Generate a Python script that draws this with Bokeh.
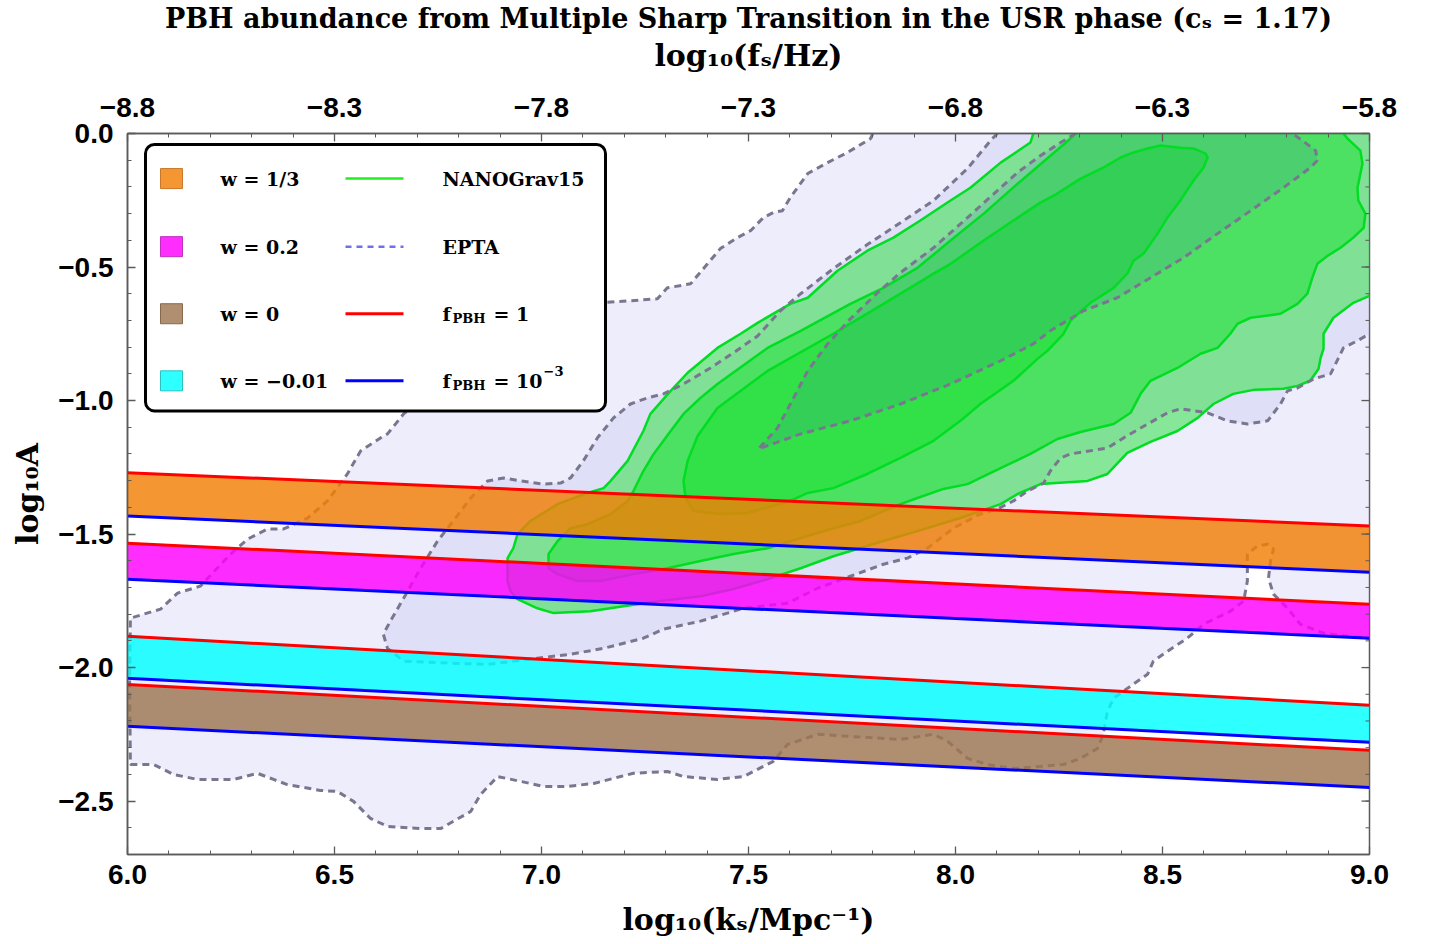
import numpy as np
from bokeh.plotting import figure
from bokeh.models import Range1d, LinearAxis, FixedTicker, BoxAnnotation
from bokeh.core.properties import value
from bokeh.embed import file_html
from bokeh.resources import INLINE

TITLE = "PBH abundance from Multiple Sharp Transition in the USR phase (cₛ = 1.17)"
X_LABEL = "log₁₀(kₛ/Mpc⁻¹)"
TOP_LABEL = "log₁₀(fₛ/Hz)"
Y_LABEL = "log₁₀A"

# ---- ticks ----
k_ticks = [6.0, 6.5, 7.0, 7.5, 8.0, 8.5, 9.0]
k_labels = ["6.0", "6.5", "7.0", "7.5", "8.0", "8.5", "9.0"]
f_ticks = [-8.8, -8.3, -7.8, -7.3, -6.8, -6.3, -5.8]
f_labels = ["−8.8", "−8.3", "−7.8", "−7.3", "−6.8", "−6.3", "−5.8"]
a_ticks = [0.0, -0.5, -1.0, -1.5, -2.0, -2.5]
a_labels = ["0.0", "−0.5", "−1.0", "−1.5", "−2.0", "−2.5"]

# ---- f_PBH bands: log10 A at k = 6 and k = 9 (red: f=1, blue: f=1e-3) ----
band_k = [6.0, 9.0]
w13_f1 = [-1.270, -1.470]
w13_f3 = [-1.432, -1.643]
w02_f1 = [-1.534, -1.763]
w02_f3 = [-1.669, -1.890]
w0_f1 = [-2.063, -2.310]
w0_f3 = [-2.220, -2.449]
wm001_f1 = [-1.883, -2.141]
wm001_f3 = [-2.040, -2.280]

# ---- EPTA contours (log10 k, log10 A) ----
epta_outer = [(7.800, 0.0), (7.795, -0.019), (7.739, -0.071), (7.691, -0.109), (7.643, -0.150), (7.601, -0.240),
              (7.582, -0.289), (7.560, -0.296), (7.536, -0.315), (7.505, -0.364), (7.473, -0.390), (7.432, -0.431),
              (7.401, -0.488), (7.360, -0.563), (7.304, -0.578), (7.280, -0.619), (7.143, -0.634), (7.022, -0.671),
              (6.901, -0.776), (6.780, -0.907), (6.667, -1.050), (6.628, -1.125), (6.611, -1.140), (6.563, -1.189),
              (6.531, -1.275), (6.483, -1.376), (6.435, -1.440), (6.377, -1.481), (6.338, -1.481), (6.290, -1.519),
              (6.249, -1.575), (6.176, -1.695), (6.121, -1.721), (6.080, -1.781), (6.007, -1.815), (6.005, -2.050),
              (6.007, -2.363), (6.063, -2.363), (6.111, -2.400), (6.169, -2.419), (6.256, -2.419), (6.314, -2.396),
              (6.353, -2.419), (6.386, -2.438), (6.466, -2.460), (6.507, -2.464), (6.546, -2.501), (6.587, -2.565),
              (6.628, -2.595), (6.708, -2.603), (6.756, -2.603), (6.829, -2.539), (6.853, -2.475), (6.894, -2.408),
              (6.949, -2.426), (7.005, -2.445), (7.063, -2.445), (7.126, -2.434), (7.191, -2.408), (7.222, -2.396),
              (7.304, -2.389), (7.343, -2.408), (7.425, -2.419), (7.488, -2.408), (7.560, -2.351), (7.594, -2.288),
              (7.667, -2.250), (7.746, -2.258), (7.867, -2.269), (7.947, -2.250), (7.981, -2.276), (8.029, -2.340),
              (8.077, -2.363), (8.140, -2.378), (8.261, -2.363), (8.302, -2.340), (8.343, -2.303), (8.357, -2.250),
              (8.367, -2.164), (8.382, -2.115), (8.415, -2.078), (8.464, -2.025), (8.478, -1.976), (8.512, -1.939),
              (8.560, -1.890), (8.599, -1.838), (8.664, -1.789), (8.696, -1.751), (8.705, -1.676), (8.705, -1.575),
              (8.729, -1.545), (8.754, -1.538), (8.768, -1.556), (8.761, -1.601), (8.756, -1.665), (8.768, -1.725),
              (8.802, -1.778), (8.833, -1.838), (8.889, -1.871), (8.947, -1.883), (9.000, -1.890)]

epta_mid = [(8.101, 0.0), (8.085, -0.026), (8.029, -0.131), (7.947, -0.251), (7.867, -0.334), (7.787, -0.416),
            (7.705, -0.506), (7.626, -0.600), (7.577, -0.664), (7.522, -0.758), (7.464, -0.821), (7.408, -0.878),
            (7.343, -0.938), (7.295, -0.975), (7.256, -0.990), (7.215, -1.013), (7.174, -1.065), (7.135, -1.140),
            (7.101, -1.226), (7.070, -1.290), (7.046, -1.309), (7.005, -1.313), (6.949, -1.301), (6.908, -1.290),
            (6.870, -1.301), (6.829, -1.365), (6.787, -1.451), (6.749, -1.526), (6.708, -1.628), (6.667, -1.740),
            (6.635, -1.826), (6.618, -1.875), (6.628, -1.928), (6.667, -1.976), (6.787, -1.984), (6.870, -1.988),
            (6.990, -1.965), (7.070, -1.950), (7.150, -1.928), (7.246, -1.890), (7.295, -1.856), (7.384, -1.826),
            (7.449, -1.796), (7.488, -1.778), (7.594, -1.759), (7.667, -1.703), (7.746, -1.658), (7.826, -1.613),
            (7.884, -1.590), (7.932, -1.553), (7.995, -1.478), (8.060, -1.425), (8.101, -1.406), (8.140, -1.376),
            (8.174, -1.339), (8.213, -1.309), (8.229, -1.264), (8.254, -1.215), (8.278, -1.200), (8.367, -1.178),
            (8.406, -1.140), (8.464, -1.088), (8.512, -1.046), (8.543, -1.031), (8.609, -1.046), (8.657, -1.076),
            (8.705, -1.088), (8.754, -1.076), (8.785, -1.013), (8.802, -0.964), (8.826, -0.953), (8.865, -0.919),
            (8.906, -0.900), (8.937, -0.803), (8.971, -0.776), (9.000, -0.750)]

epta_inner = [(8.290, 0.0), (8.254, -0.034), (8.205, -0.083), (8.150, -0.146), (8.109, -0.203), (8.029, -0.315),
              (7.947, -0.428), (7.867, -0.521), (7.812, -0.596), (7.746, -0.694), (7.691, -0.788), (7.643, -0.889),
              (7.609, -0.990), (7.570, -1.103), (7.524, -1.181), (7.626, -1.125), (7.746, -1.076), (7.867, -1.013),
              (7.988, -0.938), (8.109, -0.851), (8.188, -0.788), (8.229, -0.739), (8.309, -0.664), (8.391, -0.615),
              (8.471, -0.540), (8.551, -0.465), (8.633, -0.375), (8.713, -0.289), (8.792, -0.203), (8.857, -0.128),
              (8.874, -0.101), (8.870, -0.064), (8.841, -0.030), (8.814, 0.0)]

# ---- NANOGrav15 contours ----
ng_outer = [(8.188, 0.0), (8.181, -0.034), (8.109, -0.109), (8.036, -0.203), (7.988, -0.251), (7.915, -0.326),
            (7.850, -0.390), (7.787, -0.439), (7.715, -0.514), (7.643, -0.615), (7.601, -0.638), (7.522, -0.709),
            (7.481, -0.750), (7.425, -0.803), (7.353, -0.896), (7.312, -0.964), (7.263, -1.050), (7.246, -1.114),
            (7.208, -1.226), (7.167, -1.301), (7.150, -1.328), (7.111, -1.346), (7.039, -1.388), (6.973, -1.451),
            (6.942, -1.500), (6.932, -1.553), (6.918, -1.590), (6.918, -1.676), (6.925, -1.714), (6.942, -1.744),
            (6.990, -1.778), (7.029, -1.796), (7.118, -1.789), (7.198, -1.770), (7.287, -1.751), (7.384, -1.733),
            (7.464, -1.706), (7.546, -1.669), (7.626, -1.628), (7.705, -1.583), (7.826, -1.526), (7.908, -1.489),
            (8.012, -1.440), (8.109, -1.388), (8.150, -1.350), (8.205, -1.313), (8.319, -1.301), (8.367, -1.275),
            (8.415, -1.196), (8.471, -1.155), (8.536, -1.114), (8.585, -1.065), (8.623, -1.013), (8.671, -0.975),
            (8.720, -0.960), (8.792, -0.956), (8.826, -0.945), (8.857, -0.926), (8.877, -0.881), (8.882, -0.840),
            (8.889, -0.806), (8.889, -0.750), (8.913, -0.690), (8.961, -0.634), (9.000, -0.608)]

ng_mid = [(8.290, 0.0), (8.278, -0.019), (8.150, -0.188), (8.068, -0.300), (7.988, -0.401), (7.908, -0.503),
          (7.826, -0.578), (7.746, -0.638), (7.626, -0.739), (7.546, -0.803), (7.425, -0.938), (7.384, -0.990),
          (7.343, -1.050), (7.312, -1.114), (7.271, -1.200), (7.246, -1.264), (7.222, -1.339), (7.208, -1.376),
          (7.167, -1.425), (7.111, -1.463), (7.070, -1.478), (7.039, -1.526), (7.017, -1.575), (7.017, -1.628),
          (7.039, -1.650), (7.087, -1.676), (7.143, -1.676), (7.222, -1.650), (7.304, -1.628), (7.384, -1.601),
          (7.464, -1.575), (7.546, -1.553), (7.626, -1.515), (7.705, -1.478), (7.771, -1.451), (7.826, -1.414),
          (7.867, -1.388), (7.908, -1.365), (7.971, -1.331), (8.029, -1.313), (8.109, -1.253), (8.181, -1.200),
          (8.246, -1.144), (8.302, -1.118), (8.382, -1.088), (8.423, -1.046), (8.447, -0.975), (8.471, -0.926),
          (8.536, -0.878), (8.592, -0.825), (8.633, -0.803), (8.664, -0.750), (8.681, -0.713), (8.713, -0.690),
          (8.785, -0.675), (8.826, -0.638), (8.850, -0.600), (8.862, -0.540), (8.874, -0.488), (8.899, -0.458),
          (8.930, -0.428), (8.961, -0.390), (8.986, -0.353), (8.990, -0.300), (8.973, -0.251), (8.971, -0.203),
          (8.983, -0.113), (8.978, -0.064), (8.947, -0.019), (8.937, 0.0)]

ng_inner = [(7.343, -1.301), (7.348, -1.365), (7.367, -1.414), (7.432, -1.425), (7.498, -1.421), (7.601, -1.376),
            (7.643, -1.346), (7.705, -1.328), (7.787, -1.275), (7.867, -1.215), (7.947, -1.151), (8.012, -1.076),
            (8.060, -1.013), (8.140, -0.926), (8.198, -0.844), (8.222, -0.814), (8.261, -0.750), (8.278, -0.701),
            (8.326, -0.634), (8.382, -0.578), (8.415, -0.525), (8.430, -0.476), (8.454, -0.450), (8.488, -0.375),
            (8.512, -0.315), (8.543, -0.251), (8.575, -0.176), (8.599, -0.128), (8.609, -0.090), (8.604, -0.075),
            (8.575, -0.056), (8.543, -0.053), (8.495, -0.045), (8.464, -0.056), (8.430, -0.071), (8.399, -0.090),
            (8.357, -0.128), (8.302, -0.169), (8.237, -0.233), (8.205, -0.259), (8.140, -0.326), (8.068, -0.401),
            (7.988, -0.488), (7.947, -0.525), (7.826, -0.638), (7.705, -0.750), (7.546, -0.889), (7.425, -1.028),
            (7.377, -1.133), (7.353, -1.226), (7.343, -1.301)]


def xs_ys(pts):
    return [q[0] for q in pts], [q[1] for q in pts]


def closed_to_corner(pts, corner):
    xs, ys = xs_ys(pts)
    return xs + [corner[0]], ys + [corner[1]]


X0, X1 = 6.0, 9.0
Y0, Y1 = -2.7, 0.0
FRAME_W = 1242.0

p = figure(width=1437, height=939, x_range=Range1d(X0, X1), y_range=Range1d(Y0, Y1),
           output_backend="svg", toolbar_location=None, title=TITLE,
           min_border_left=127, min_border_right=68, min_border_top=133, min_border_bottom=83)
p.extra_x_ranges = {"f": Range1d(-8.8, -5.8)}
p.xgrid.grid_line_color = None
p.ygrid.grid_line_color = None
AXIS_COLOR = "#5a5a5a"
p.outline_line_color = AXIS_COLOR
p.outline_line_width = 1.5
p.outline_line_alpha = 1.0
p.background_fill_color = "white"

p.title.align = "center"
p.title.text_font = "DejaVu Serif"
p.title.text_font_size = "27px"
p.title.text_font_style = "bold"
p.title.text_color = "black"
p.title.standoff = 1

k_minor = [round(v, 2) for v in np.arange(6.0, 9.0001, 0.1)]
f_minor = [round(v, 2) for v in np.arange(-8.8, -5.7999, 0.1)]
a_minor = [round(v, 2) for v in np.arange(-2.7, 0.0001, 0.1)]

TICK_FONT = "Liberation Sans"


def style_axis(ax):
    ax.axis_line_color = AXIS_COLOR
    ax.axis_line_width = 1.5
    ax.major_tick_line_color = AXIS_COLOR
    ax.minor_tick_line_color = AXIS_COLOR
    ax.major_tick_line_width = 1.3
    ax.minor_tick_line_width = 1.0
    ax.major_tick_in = 8
    ax.major_tick_out = 0
    ax.minor_tick_in = 4
    ax.minor_tick_out = 0
    ax.major_label_text_font = TICK_FONT
    ax.major_label_text_font_style = "bold"
    ax.major_label_text_font_size = "28px"
    ax.major_label_text_color = "black"
    ax.axis_label_text_font = "DejaVu Serif"
    ax.axis_label_text_font_style = "bold"
    ax.axis_label_text_font_size = "30px"
    ax.axis_label_text_color = "black"


xb = p.xaxis[0]
xb.ticker = FixedTicker(ticks=k_ticks, minor_ticks=k_minor)
xb.major_label_overrides = {t: l for t, l in zip(k_ticks, k_labels)}
xb.axis_label = X_LABEL
style_axis(xb)
xb.major_label_standoff = 10
xb.axis_label_standoff = 15

yl = p.yaxis[0]
yl.ticker = FixedTicker(ticks=a_ticks, minor_ticks=a_minor)
yl.major_label_overrides = {t: l for t, l in zip(a_ticks, a_labels)}
yl.axis_label = Y_LABEL
style_axis(yl)
yl.major_label_standoff = 14
yl.axis_label_standoff = 10

xt = LinearAxis(x_range_name="f", ticker=FixedTicker(ticks=f_ticks, minor_ticks=f_minor),
                axis_label=TOP_LABEL)
xt.major_label_overrides = {t: l for t, l in zip(f_ticks, f_labels)}
style_axis(xt)
xt.major_label_standoff = 17
xt.axis_label_standoff = 22
p.add_layout(xt, "above")

# right-hand frame ticks (no labels), drawn from the same tick lists
unit_px = (X1 - X0) / FRAME_W
p.segment(x0=[X1 - 8 * unit_px] * len(a_ticks), y0=a_ticks, x1=[X1] * len(a_ticks), y1=a_ticks,
          line_color=AXIS_COLOR, line_width=1.3, level="overlay")
p.segment(x0=[X1 - 4 * unit_px] * len(a_minor), y0=a_minor, x1=[X1] * len(a_minor), y1=a_minor,
          line_color=AXIS_COLOR, line_width=1.0, level="overlay")

# ---- colours ----
LAV = "#b4b4f0"
LAV_A = 0.24
GRN = "#14e128"
GRN_A = 0.47
EPTA_LINE = "#7a7690"
NG_LINE = "#00dd22"

# EPTA fills
ex, ey = closed_to_corner(epta_outer, (X1, Y1))
p.patch(ex, ey, fill_color=LAV, fill_alpha=LAV_A, line_color=None)
mx, my = closed_to_corner(epta_mid, (X1, Y1))
p.patch(mx, my, fill_color=LAV, fill_alpha=LAV_A, line_color=None)

# NANOGrav fills
gx, gy = closed_to_corner(ng_outer, (X1, Y1))
p.patch(gx, gy, fill_color=GRN, fill_alpha=GRN_A, line_color=None)
g2x, g2y = xs_ys(ng_mid)
p.patch(g2x, g2y, fill_color=GRN, fill_alpha=GRN_A, line_color=None)
g3x, g3y = xs_ys(ng_inner)
p.patch(g3x, g3y, fill_color=GRN, fill_alpha=GRN_A, line_color=None)

# EPTA inner fill on top
ix, iy = xs_ys(epta_inner)
p.patch(ix, iy, fill_color="#465ac8", fill_alpha=0.13, line_color=None)

# outlines
for pts in (ng_outer, ng_mid, ng_inner):
    lx_, ly_ = xs_ys(pts)
    p.line(lx_, ly_, line_color=NG_LINE, line_width=2.5)
for pts in (epta_outer, epta_mid, epta_inner):
    lx_, ly_ = xs_ys(pts)
    p.line(lx_, ly_, line_color=EPTA_LINE, line_width=3, line_dash="7 5")

# ---- bands ----
BAND_A = 0.82
bands = [
    (w13_f1, w13_f3, "#f27f05"),
    (w02_f1, w02_f3, "#ff00ff"),
    (wm001_f1, wm001_f3, "#00ffff"),
    (w0_f1, w0_f3, "#9e7650"),
]
for top, bot, col in bands:
    p.varea(x=band_k, y1=bot, y2=top, fill_color=col, fill_alpha=BAND_A)
for top, bot, col in bands:
    p.line(band_k, top, line_color="#ff0000", line_width=3)
    p.line(band_k, bot, line_color="#0000ff", line_width=3)


# ---- legend (positions given in reference pixels, mapped into data space) ----
def lx(px):
    return X0 + (px - 127) / 414.0


def ly(py):
    return -(py - 133) / 266.67


box = BoxAnnotation(left=lx(145), right=lx(605), top=ly(144), bottom=ly(410),
                    fill_color="white", fill_alpha=1.0, line_color="black", line_alpha=1.0, line_width=3)
try:
    box.border_radius = 9
except Exception:
    pass
p.add_layout(box)

rows = [178, 246, 313, 380]
sw_fill = ["#f27f05", "#ff00ff", "#9e7650", "#00ffff"]
sw_line = ["#c8782a", "#c030c0", "#86684c", "#2cc0c0"]
left_text = ["w = 1/3", "w = 0.2", "w = 0", "w = −0.01"]
LFONT = value("DejaVu Serif")
TB = 0  # text baseline offset
for r, fc, lc, t in zip(rows, sw_fill, sw_line, left_text):
    p.quad(left=[lx(160)], right=[lx(182)], top=[ly(r - 10)], bottom=[ly(r + 10)],
           fill_color=fc, fill_alpha=BAND_A, line_color=lc, line_width=1, level="overlay")
    p.text(x=[lx(220)], y=[ly(r + TB)], text=[t], text_font=LFONT, text_font_style="bold",
           text_font_size="19px", text_color="black", text_baseline="alphabetic", level="overlay")

p.line([lx(345), lx(403)], [ly(rows[0])] * 2, line_color="#22ee22", line_width=2.5, level="overlay")
p.line([lx(345), lx(403)], [ly(rows[1])] * 2, line_color="#7070ee", line_width=2.5,
       line_dash="6 5", level="overlay")
p.line([lx(345), lx(403)], [ly(rows[2])] * 2, line_color="#ff0000", line_width=3, level="overlay")
p.line([lx(345), lx(403)], [ly(rows[3])] * 2, line_color="#0000ff", line_width=3, level="overlay")

p.text(x=[lx(442), lx(442)], y=[ly(rows[0] + TB), ly(rows[1] + TB)], text=["NANOGrav15", "EPTA"],
       text_font=LFONT, text_font_style="bold", text_font_size="19px", text_color="black",
       text_baseline="alphabetic", level="overlay")
# f_PBH = 1 and f_PBH = 10^-3 built from pieces (subscript / superscript)
p.text(x=[lx(442), lx(442)], y=[ly(rows[2] + TB), ly(rows[3] + TB)], text=["f", "f"],
       text_font=LFONT, text_font_style="bold", text_font_size="19px", text_color="black",
       text_baseline="alphabetic", level="overlay")
p.text(x=[lx(452), lx(452)], y=[ly(rows[2] + TB + 5), ly(rows[3] + TB + 5)], text=["PBH", "PBH"],
       text_font=LFONT, text_font_style="bold", text_font_size="13px", text_color="black",
       text_baseline="alphabetic", level="overlay")
p.text(x=[lx(493), lx(493)], y=[ly(rows[2] + TB), ly(rows[3] + TB)], text=["= 1", "= 10"],
       text_font=LFONT, text_font_style="bold", text_font_size="19px", text_color="black",
       text_baseline="alphabetic", level="overlay")
p.text(x=[lx(543)], y=[ly(rows[3] + TB - 10)], text=["−3"],
       text_font=LFONT, text_font_style="bold", text_font_size="13px", text_color="black",
       text_baseline="alphabetic", level="overlay")

open("out.html", "w").write(file_html(p, INLINE))
